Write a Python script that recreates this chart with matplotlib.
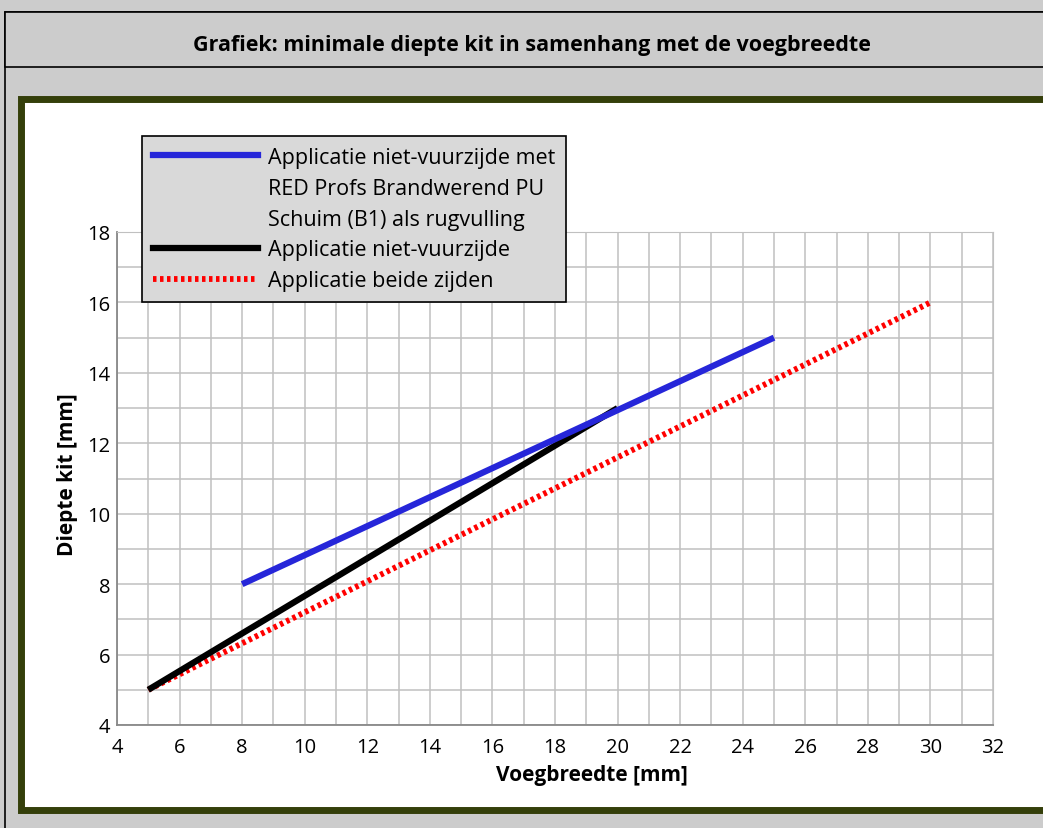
import matplotlib.pyplot as plt
from matplotlib.lines import Line2D
from matplotlib.patches import Rectangle

plt.rcParams['font.family'] = ['Open Sans', 'DejaVu Sans']

# === Data ===
blue_x = [8, 25]
blue_y = [8, 15]
black_x = [5, 20]
black_y = [5, 13]
red_x = [5, 30]
red_y = [5, 16]

labels = [
    "Applicatie niet-vuurzijde met",
    "RED Profs Brandwerend PU",
    "Schuim (B1) als rugvulling",
    "Applicatie niet-vuurzijde",
    "Applicatie beide zijden",
]
title = "Grafiek: minimale diepte kit in samenhang met de voegbreedte"

W, H = 1043, 829
fig = plt.figure(figsize=(W / 100, H / 100), dpi=100)
fig.patch.set_facecolor("#cccccc")


def px_rect(x0, y0, x1, y1, **kw):
    # rectangle in pixel coords (top-left origin) -> figure coords
    return Rectangle((x0 / W, 1 - y1 / H), (x1 - x0) / W, (y1 - y0) / H,
                     transform=fig.transFigure, zorder=-5, **kw)


# outer panel + title bar
fig.patches.append(px_rect(5, 13, 1060, 900, facecolor="#cccccc", edgecolor="black", linewidth=1.2))
fig.patches.append(px_rect(5, 13, 1060, 68, facecolor="#cccccc", edgecolor="black", linewidth=1.2))
fig.text(532 / W, 1 - 45 / H, title, ha="center", va="center", fontsize=15.5, fontweight="bold")

# olive frame with white chart area
fig.patches.append(px_rect(21, 100, 1060, 811, facecolor="white", edgecolor="#343f0a", linewidth=5))

# === Plot ===
ax = fig.add_axes([117 / W, 1 - 726 / H, (993 - 117) / W, (726 - 233) / H])
ax.set_zorder(2)
ax.set_facecolor("white")
ax.plot(red_x, red_y, color="#ff0000", linewidth=4.2, linestyle=(0, (0.6, 0.6)),
        solid_capstyle="butt", dash_capstyle="butt", zorder=3)
ax.plot(black_x, black_y, color="black", linewidth=4.5, solid_capstyle="butt", zorder=4)
ax.plot(blue_x, blue_y, color="#2626d9", linewidth=4.5, solid_capstyle="butt", zorder=5)

ax.set_xlim(4, 32)
ax.set_ylim(4, 18)
ax.set_xticks(range(4, 33, 2))
ax.set_yticks(range(4, 19, 2))
ax.set_xticks(range(4, 33, 1), minor=True)
ax.set_yticks(range(4, 19, 1), minor=True)
ax.grid(True, which="both", color="#c0c0c0", linewidth=1.1)
ax.tick_params(which="both", length=0, labelsize=14.5)
ax.tick_params(axis="y", pad=5)
ax.tick_params(axis="x", pad=9)
for s in ["top", "right"]:
    ax.spines[s].set_color("#c0c0c0")
for s in ["left", "bottom"]:
    ax.spines[s].set_color("#888888")
    ax.spines[s].set_linewidth(1.3)

ax.set_xlabel("Voegbreedte [mm]", fontsize=15, fontweight="bold")
ax.set_ylabel("Diepte kit [mm]", fontsize=15, fontweight="bold")
ax.xaxis.set_label_coords((592 - 117) / 876, -(776 - 726) / 493, transform=ax.transAxes)
ax.yaxis.set_label_coords(-(117 - 68) / 876, (726 - 475) / 493, transform=ax.transAxes)
ax.xaxis.label.set_va("center")
ax.yaxis.label.set_va("center")

# Legend (extra lines as empty handles so the blue handle sits on the first line)
handles = [
    Line2D([], [], color="#2626d9", linewidth=4.5),
    Line2D([], [], color="none"),
    Line2D([], [], color="none"),
    Line2D([], [], color="black", linewidth=4.5),
    Line2D([], [], color="#ff0000", linewidth=4.2, linestyle=(0, (0.6, 0.6))),
]
leg = fig.legend(handles, labels, loc="upper left", bbox_to_anchor=(142 / W, 1 - 137 / H),
                 fontsize=15.5, frameon=True, fancybox=False, handlelength=4.9,
                 handletextpad=0.45, labelspacing=0.46, borderpad=0.5, borderaxespad=0)
leg.set_zorder(10)
leg.get_frame().set_facecolor("#d9d9d9")
leg.get_frame().set_edgecolor("black")
leg.get_frame().set_alpha(1)
leg.get_frame().set_linewidth(1.2)

plt.savefig("out.png", dpi=100, facecolor=fig.get_facecolor())
